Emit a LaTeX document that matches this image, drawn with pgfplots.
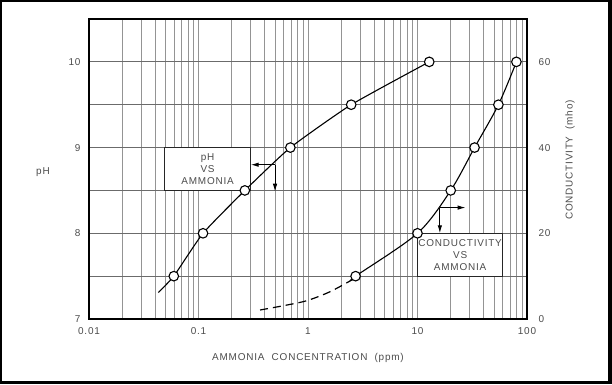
\documentclass[border=0pt]{standalone}
\usepackage{fontspec}
\setmainfont{Liberation Sans}[LetterSpace=8]
\usepackage{pgfplots}
\pgfplotsset{compat=1.18}
\usetikzlibrary{arrows.meta}
\definecolor{txt}{gray}{0.3}
\definecolor{gridv}{gray}{0.58}
\definecolor{gridh}{gray}{0.42}
\begin{document}
\begin{tikzpicture}[x=1bp,y=1bp]
\fill[black] (0,0) rectangle (612,384);
\fill[white] (2,3) rectangle (608,382);
\begin{axis}[
  at={(89bp,65bp)}, anchor=south west, scale only axis,
  width=438bp, height=300bp,
  xmode=log, xmin=0.01, xmax=100, ymin=7, ymax=10.5,
  xtick={0.01,0.1,1,10,100}, xticklabels={0.01,0.1,1,10,100},
  minor xtick={0.02,0.03,0.04,0.05,0.06,0.07,0.08,0.09,0.2,0.3,0.4,0.5,0.6,0.7,0.8,0.9,2,3,4,5,6,7,8,9,20,30,40,50,60,70,80,90},
  ytick={7,8,9,10}, minor ytick={7.5,8.5,9.5},
  grid=both,
  major x grid style={gridv, line width=0.7bp},
  minor x grid style={gridv, line width=0.7bp},
  major y grid style={gridh, line width=0.8bp},
  minor y grid style={gridh, line width=0.8bp},
  major tick length=0pt, minor tick length=0pt,
  axis line style={black, line width=1.2bp},
  tick label style={font=\fontsize{10}{11}\selectfont, text=txt},
  /pgf/number format/assume math mode=true,
  xticklabel style={yshift=-5bp},
  yticklabel style={xshift=-5bp},
  xlabel={AMMONIA\ \ CONCENTRATION\ \ (ppm)},
  xlabel style={at={(axis description cs:0.5,-0.13)}, anchor=center, font=\fontsize{10}{11}\selectfont, text=txt},
  ylabel={pH},
  ylabel style={at={(axis description cs:-0.105,0.49)}, anchor=center, rotate=-90, font=\fontsize{10}{11}\selectfont, text=txt},
]
% annotation boxes
\draw[line width=1.1bp, black!85, fill=white] (axis cs:0.049,8.5) rectangle (axis cs:0.30,9.0);
\node[align=center, text=txt, font=\fontsize{10}{12}\selectfont] at (axis cs:0.121,8.75) {pH\\VS\\AMMONIA};
\draw[line width=1.1bp, black!85, fill=white] (axis cs:10,7.5) rectangle (axis cs:60,8.0);
\node[align=center, text=txt, font=\fontsize{10}{12}\selectfont] at (axis cs:24.5,7.75) {CONDUCTIVITY\\VS\\AMMONIA};
% arrows
\draw[line width=1bp, -{Latex[length=8bp,width=4.5bp]}] (axis cs:0.5,8.8) -- (axis cs:0.30,8.8);
\draw[line width=1bp, -{Latex[length=8bp,width=4.5bp]}] (axis cs:0.5,8.8) -- (axis cs:0.5,8.485);
\draw[line width=1bp, -{Latex[length=8bp,width=4.5bp]}] (axis cs:16,8.3) -- (axis cs:27.5,8.3);
\draw[line width=1bp, -{Latex[length=8bp,width=4.5bp]}] (axis cs:16,8.3) -- (axis cs:16,8.0);
% pH vs ammonia
\addplot[black, line width=1.1bp, smooth, tension=0.3] coordinates {
 (0.043,7.31) (0.0595,7.5) (0.11,8) (0.265,8.5) (0.69,9) (2.48,9.5) (12.8,10)};
\addplot[only marks, mark=*, mark size=4.8bp, mark options={fill=white, line width=1.1bp, draw=black}] coordinates {
 (0.0595,7.5) (0.11,8) (0.265,8.5) (0.69,9) (2.48,9.5) (12.8,10)};
\end{axis}
\begin{axis}[
  at={(89bp,65bp)}, anchor=south west, scale only axis,
  width=438bp, height=300bp,
  xmode=log, xmin=0.01, xmax=100, ymin=0, ymax=70,
  axis x line=none, axis y line*=right,
  ytick={0,20,40,60},
  major tick length=0pt, minor tick length=0pt,
  axis line style={black, line width=1.2bp},
  tick label style={font=\fontsize{10}{11}\selectfont, text=txt},
  /pgf/number format/assume math mode=true,
  yticklabel style={xshift=8bp},
  ylabel={CONDUCTIVITY\ \ (mho)},
  ylabel style={at={(axis description cs:1.098,0.53)}, anchor=center, rotate=0, font=\fontsize{10}{11}\selectfont, text=txt},
]
\addplot[black, line width=1.2bp, dash pattern=on 8bp off 5bp, smooth] coordinates {
 (0.365,2.1) (0.595,3.1) (0.973,4.27) (1.59,6.37) (2.55,9.2)};
\addplot[black, line width=1.1bp, smooth, tension=0.5] coordinates {
 (2.55,9.2) (2.72,10) (10,20) (20.1,30) (33.2,40) (54.8,50) (80,60)};
\addplot[only marks, mark=*, mark size=4.8bp, mark options={fill=white, line width=1.1bp, draw=black}] coordinates {
 (2.72,10) (10,20) (20.1,30) (33.2,40) (54.8,50) (80,60)};
\end{axis}
\end{tikzpicture}
\end{document}
